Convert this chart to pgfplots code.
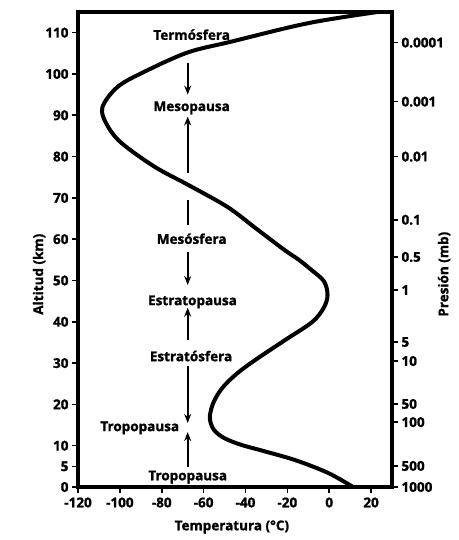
\documentclass[border=0pt]{standalone}
\usepackage{fontspec}
\setmainfont{Open Sans}[FakeBold=1.3]
\usepackage{pgfplots}
\pgfplotsset{compat=1.18}
\usetikzlibrary{arrows.meta}

\newcommand{\fs}{\fontsize{13.5}{15}\bfseries}

\begin{document}
\begin{tikzpicture}
\pgfplotsset{
  every tick label/.append style={font=\fs},
  every axis label/.append style={font=\fs},
}
% eje principal: temperatura vs altitud
\begin{axis}[
  name=ax,
  scale only axis, width=314pt, height=475pt,
  xmin=-120, xmax=30, ymin=0, ymax=115,
  xtick={-120,-100,-80,-60,-40,-20,0,20},
  ytick={0,5,10,20,30,40,50,60,70,80,90,100,110},
  tick style={line width=1.6pt, black},
  tick align=outside, major tick length=6pt,
  xtick pos=bottom, ytick pos=left,
  /pgf/number format/assume math mode=true,
  xlabel={Temperatura (°C)}, ylabel={Altitud (km)},
  xlabel style={at={(axis description cs:0.49,0)}, anchor=center, yshift=-40pt},
  ylabel style={at={(axis description cs:-0.124,0.448)}, anchor=center},
  xticklabel style={yshift=-1pt},
]
\addplot[black, line width=4pt, smooth, tension=0.55] coordinates {
  (11.4,0) (-0.5,3.4) (-16.2,6.5) (-32,8.8) (-42,10.2) (-50,11.8)
  (-55,13.8) (-57,16.5) (-56,19.5) (-53.5,22.2) (-50,24.6) (-44,27.5)
  (-35.2,30.8) (-21,35.6) (-8,40) (-2.5,43.5) (-0.8,46.5) (-2.5,49.8)
  (-8.6,52.6) (-14.5,55) (-21.4,57.4) (-35,62.6) (-48.6,67.8) (-67.6,73.2)
  (-83.3,77.5) (-99.5,83.4) (-106.5,88) (-108.3,92) (-101,96.9) (-88,100.6)
  (-67.6,105.2) (-47,107.8) (-9,112.4) (30,115.5)
};
% flechas
\pgfplotsset{flecha/.style={black, line width=1.7pt, -{Stealth[length=9pt,width=7pt]}}}
\addplot[flecha] coordinates {(-67.6,102.7) (-67.6,95.0)};
\addplot[flecha] coordinates {(-67.6,76.1) (-67.6,89.7)};
\addplot[black, line width=1.7pt] coordinates {(-67.6,69.5) (-67.6,63.5)};
\addplot[flecha] coordinates {(-67.6,56.9) (-67.6,48.9)};
\addplot[flecha] coordinates {(-67.6,35.6) (-67.6,43.4)};
\addplot[flecha] coordinates {(-67.6,29.3) (-67.6,15.5)};
\addplot[flecha] coordinates {(-67.6,4.8) (-67.6,13.3)};
% rótulos de capas
\node[font=\fs] at (axis cs:-65.7,109.5) {Termósfera};
\node[font=\fs] at (axis cs:-65.7,91.8) {Mesopausa};
\node[font=\fs] at (axis cs:-65.7,60.1) {Mesósfera};
\node[font=\fs] at (axis cs:-65.3,44.8) {Estratopausa};
\node[font=\fs] at (axis cs:-66,31.7) {Estratósfera};
\node[font=\fs] at (axis cs:-90.5,14.3) {Tropopausa};
\node[font=\fs] at (axis cs:-67.6,2.4) {Tropopausa};
\end{axis}
% eje derecho: presión
\begin{axis}[
  scale only axis, width=314pt, height=475pt,
  xmin=-120, xmax=30, ymin=0, ymax=115,
  axis x line=none, axis y line*=right,
  tick style={line width=1.6pt, black},
  tick align=outside, major tick length=6pt,
  ytick={107.6,93.3,80,64.7,55.7,47.7,35.1,30.5,20.1,15.7,5.1,0},
  yticklabels={0.0001,0.001,0.01,0.1,0.5,1,5,10,50,100,500,1000},
  ylabel={Presión (mb)},
  ylabel style={at={(axis description cs:1.166,0.448)}, anchor=center},
]
\addplot[draw=none] coordinates {(0,0)};
\end{axis}
% marco grueso
\draw[line width=4.5pt] (ax.south west) rectangle (ax.north east);
\pgfresetboundingbox
\path (ax.south west) +(-78pt,-53pt) (ax.north east) +(67pt,12pt);
\end{tikzpicture}
\end{document}
